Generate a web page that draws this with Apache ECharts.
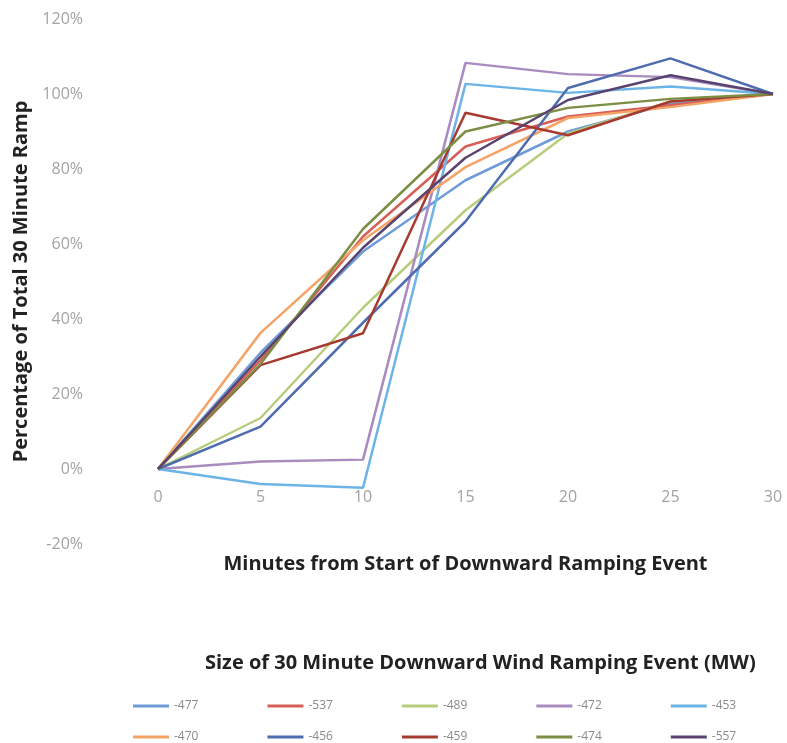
<!DOCTYPE html>
<html>
<head>
<meta charset="utf-8">
<script src="https://cdn.jsdelivr.net/npm/echarts@6/dist/echarts.min.js"></script>
<style>
  html, body { margin: 0; padding: 0; background: #fff; }
  #main { width: 787px; height: 743px; }
</style>
</head>
<body>
<div id="main"></div>
<script>
// minutes from start of the ramping event
var minutes = [0, 5, 10, 15, 20, 25, 30];

// event sizes (MW) used as series names
var names = ['-477', '-537', '-489', '-472', '-453', '-470', '-456', '-459', '-474', '-557'];

// percentage of total 30 minute ramp, one array per event
var s477 = [0, 31, 58, 77, 90, 97.5, 100];
var s537 = [0, 29, 62, 86, 94, 97, 100];
var s489 = [0, 13.6, 43, 69, 89.5, 98, 100];
var s472 = [0, 2, 2.5, 108.3, 105.3, 104.5, 100];
var s453 = [0, -4, -5, 102.7, 100.3, 102, 100];
var s470 = [0, 36.3, 61, 80.5, 93.6, 96.5, 100];
var s456 = [0, 11.3, 39, 66, 101.6, 109.5, 100];
var s459 = [0, 27.7, 36.2, 95, 89, 98, 100];
var s474 = [0, 28, 64, 90, 96.3, 98.7, 100];
var s557 = [0, 30, 59, 83, 98.4, 105, 100];

var values = [s477, s537, s489, s472, s453, s470, s456, s459, s474, s557];
var colors = ['#6f9bd6', '#d65f58', '#b6cd7c', '#a98bbf', '#6cb4e6',
              '#f5a468', '#4f6dae', '#a63a30', '#7c8d44', '#59436f'];

var font = 'Open Sans';

var series = [];
for (var i = 0; i < names.length; i++) {
    var pts = [];
    for (var j = 0; j < minutes.length; j++) {
        pts.push([minutes[j], values[i][j]]);
    }
    series.push({
        name: names[i],
        type: 'line',
        data: pts,
        symbol: 'none',
        lineStyle: { width: 2.5, color: colors[i] },
        itemStyle: { color: colors[i] }
    });
}

var legendBase = {
    left: 133,
    padding: 0,
    orient: 'horizontal',
    icon: 'rect',
    itemWidth: 36,
    itemHeight: 3,
    itemGap: 69,
    textStyle: { color: '#8a8a8a', fontSize: 12, fontFamily: font }
};

var myChart = echarts.init(document.getElementById('main'));
var option = {
    backgroundColor: '#fff',
    color: colors,
    animation: false,
    title: {
        text: 'Size of 30 Minute Downward Wind Ramping Event (MW)',
        left: 200,
        top: 648,
        textStyle: { color: '#222', fontSize: 20, fontWeight: 'bold', fontFamily: font }
    },
    legend: [
        Object.assign({}, legendBase, { top: 700, data: names.slice(0, 5) }),
        Object.assign({}, legendBase, { top: 731, data: names.slice(5) })
    ],
    grid: {
        left: 158,
        right: 14,
        top: 19,
        bottom: 199
    },
    xAxis: {
        type: 'value',
        min: 0,
        max: 30,
        interval: 5,
        position: 'bottom',
        offset: -75, // x axis crosses at 0%
        name: 'Minutes from Start of Downward Ramping Event',
        nameLocation: 'middle',
        nameGap: 85,
        nameTextStyle: { color: '#222', fontSize: 20, fontWeight: 'bold', fontFamily: font },
        axisLine: { show: false, onZero: false },
        axisTick: { show: false },
        splitLine: { show: false },
        axisLabel: { color: '#a3a3a3', fontSize: 16, fontFamily: font, margin: 20 }
    },
    yAxis: {
        type: 'value',
        min: -20,
        max: 120,
        interval: 20,
        name: 'Percentage of Total 30 Minute Ramp',
        nameLocation: 'middle',
        nameGap: 124,
        nameTextStyle: { color: '#222', fontSize: 20, fontWeight: 'bold', fontFamily: font },
        axisLine: { show: false },
        axisTick: { show: false },
        splitLine: { show: false },
        axisLabel: { color: '#a3a3a3', fontSize: 16, fontFamily: font, margin: 75, formatter: '{value}%' }
    },
    series: series
};
myChart.setOption(option);
</script>
</body>
</html>
